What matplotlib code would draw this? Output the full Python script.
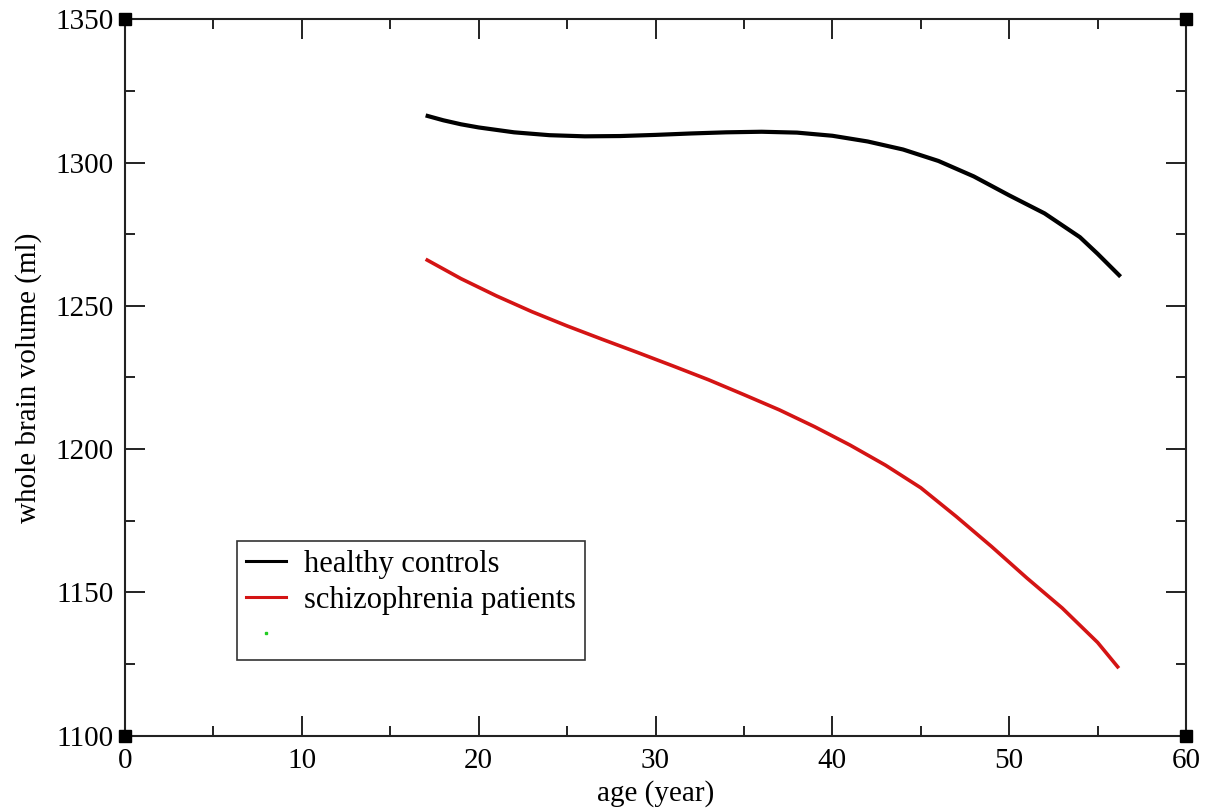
import matplotlib
matplotlib.use("Agg")
import matplotlib.pyplot as plt
from matplotlib.lines import Line2D
from matplotlib.ticker import MultipleLocator

# ---- data ----
age_controls = [17, 18, 19, 20, 22, 24, 26, 28, 30, 32, 34, 36, 38, 40, 42, 44, 46, 48,
                50, 52, 54, 55, 56.3]
vol_controls = [1316.5, 1314.8, 1313.4, 1312.3, 1310.6, 1309.6, 1309.2, 1309.3, 1309.7,
                1310.2, 1310.6, 1310.8, 1310.5, 1309.4, 1307.4, 1304.6, 1300.6, 1295.2,
                1288.6, 1282.3, 1274.0, 1268.2, 1260.2]

age_patients = [17, 19, 21, 23, 25, 27, 29, 31, 33, 35, 37, 39, 41, 43, 45, 47, 49, 51,
                53, 55, 56.2]
vol_patients = [1266.3, 1259.5, 1253.5, 1248.0, 1243.0, 1238.3, 1233.7, 1229.0, 1224.2,
                1219.0, 1213.7, 1207.8, 1201.4, 1194.4, 1186.5, 1176.5, 1166.0, 1155.0,
                1144.5, 1132.5, 1123.5]

series_labels = ["healthy controls", "schizophrenia patients"]
x_label = "age (year)"
y_label = "whole brain volume (ml)"
x_range = (0, 60)
y_range = (1100, 1350)

plt.rcParams['font.family'] = ['Liberation Serif', 'DejaVu Serif']

fig = plt.figure(figsize=(12.07, 8.08), dpi=100)
ax = fig.add_axes([0.1036, 0.0897, 0.8790, 0.8862])

ax.plot(age_controls, vol_controls, color='black', lw=3.0, solid_capstyle='butt',
        solid_joinstyle='round')
ax.plot(age_patients, vol_patients, color='#d41414', lw=2.6, solid_capstyle='butt',
        solid_joinstyle='round')

ax.set_xlim(*x_range)
ax.set_ylim(*y_range)
ax.xaxis.set_major_locator(MultipleLocator(10))
ax.xaxis.set_minor_locator(MultipleLocator(5))
ax.yaxis.set_major_locator(MultipleLocator(50))
ax.yaxis.set_minor_locator(MultipleLocator(25))

ax.tick_params(which='both', direction='in', top=True, right=True, width=1.4, color='#222222')
ax.tick_params(which='major', length=14.5)
ax.tick_params(which='minor', length=7.5)
ax.tick_params(axis='y', which='major', labelsize=21, pad=8)
ax.tick_params(axis='x', which='major', labelsize=21, pad=9)
for s in ax.spines.values():
    s.set_linewidth(1.5)
    s.set_color('#222222')

ax.set_xlabel(x_label, fontsize=21, labelpad=4)
ax.set_ylabel(y_label, fontsize=21, labelpad=10)

# corner squares
for cx, cy in [(0, 0), (1, 0), (0, 1), (1, 1)]:
    ax.plot([cx], [cy], marker='s', ms=8.5, color='black', transform=ax.transAxes,
            clip_on=False, zorder=5)

handles = [Line2D([], [], color='black', lw=2.2),
           Line2D([], [], color='#d41414', lw=2.2),
           Line2D([], [], color='#22cc22', marker='s', ms=2, lw=0)]
leg = ax.legend(handles, series_labels + [" "], loc='upper left',
                bbox_to_anchor=(0.1056, 0.2717), borderaxespad=0, fontsize=22,
                fancybox=False, frameon=True, handlelength=1.3, handletextpad=0.6,
                labelspacing=0.22, borderpad=0.3)
leg.get_frame().set_edgecolor('black')
leg.get_frame().set_linewidth(1.2)

fig.savefig("out.png", dpi=100)
